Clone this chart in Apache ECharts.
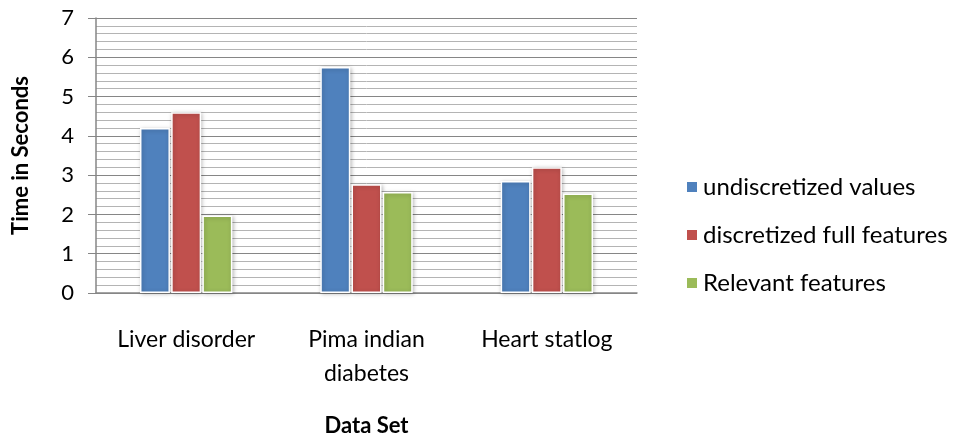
<!DOCTYPE html>
<html><head><meta charset="utf-8">
<script src="https://cdn.jsdelivr.net/npm/echarts@6/dist/echarts.min.js"></script>
<style>html,body{margin:0;padding:0;background:#fff}#c{width:959px;height:442px}</style>
</head><body><div id="c"></div>
<script>
const categories = ['Liver disorder', 'Pima indian\ndiabetes', 'Heart statlog'];
const undiscretized = [4.2, 5.75, 2.85];
const discretizedFull = [4.6, 2.77, 3.2];
const relevant = [1.97, 2.57, 2.53];
const seriesNames = ['undiscretized values', 'discretized full features', 'Relevant features'];
const colors = ['#4F81BD', '#C0504D', '#9BBB59'];
const FONT = 'Lato';
const chart = echarts.init(document.getElementById('c'));
const mk = (name, data, color) => ({
  name, type: 'bar', data, barWidth: 30, barGap: '4%',
  itemStyle: { color, borderColor: '#fff', borderWidth: 1.5, shadowBlur: 4, shadowColor: 'rgba(0,0,0,0.25)', shadowOffsetX: 1, shadowOffsetY: 1 },
  emphasis: { disabled: true }
});
chart.setOption({
  animation: false,
  grid: { left: 96, right: 322, top: 18, bottom: 140 },
  legend: {
    orient: 'vertical', left: 680, top: 170, itemWidth: 12, itemHeight: 12, itemGap: 24,
    icon: 'rect',
    textStyle: { fontFamily: FONT, fontSize: 24, color: '#000' },
    data: seriesNames
  },
  xAxis: {
    type: 'category', data: categories,
    name: 'Data Set', nameLocation: 'middle', nameGap: 122,
    nameTextStyle: { fontFamily: FONT, fontSize: 22, fontWeight: 'bold', color: '#000' },
    axisLine: { lineStyle: { color: '#868686', width: 1.5 } },
    axisTick: { show: false },
    axisLabel: { fontFamily: FONT, fontSize: 23, color: '#000', margin: 30, lineHeight: 34 }
  },
  yAxis: {
    type: 'value', min: 0, max: 7, interval: 1,
    name: 'Time in Seconds', nameLocation: 'middle', nameGap: 64,
    nameTextStyle: { fontFamily: FONT, fontSize: 22, fontWeight: 'bold', color: '#000' },
    axisLine: { show: true, lineStyle: { color: '#868686', width: 1.5 } },
    axisTick: { show: true, length: 8, lineStyle: { color: '#868686' } },
    axisLabel: { fontFamily: FONT, fontSize: 22, color: '#000', margin: 22 },
    splitLine: { lineStyle: { color: '#868686', width: 1.2 } },
    minorTick: { show: false, splitNumber: 5 },
    minorSplitLine: { show: true, lineStyle: { color: '#b4b4b4', width: 1 } }
  },
  series: [
    mk(seriesNames[0], undiscretized, colors[0]),
    mk(seriesNames[1], discretizedFull, colors[1]),
    mk(seriesNames[2], relevant, colors[2])
  ]
});
</script></body></html>
